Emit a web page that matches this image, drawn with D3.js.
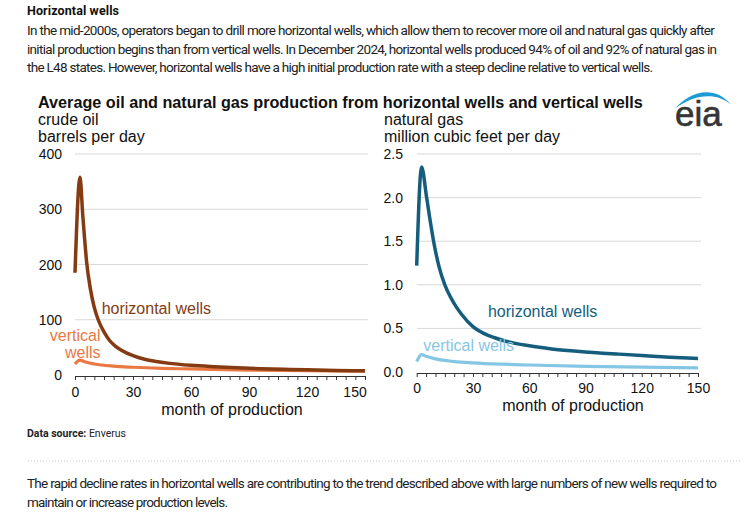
<!DOCTYPE html>
<html><head><meta charset="utf-8">
<script src="https://cdn.jsdelivr.net/npm/d3@7"></script>
<style>
html,body{margin:0;padding:0;background:#fff;}
svg{display:block;}
</style></head>
<body>
<svg id="chart" width="752" height="513"></svg>
<script>
// ---------- data ----------
const oilHorizontalMonths = [0, 2.6, 4, 5, 6, 8, 10, 12, 15, 18, 21, 24, 30, 36, 42, 48, 60, 72, 84, 96, 108, 120, 135, 150];
const oilHorizontal      = [185, 358, 290, 245, 205, 155, 122, 100, 78, 62, 52, 45, 35, 28.5, 24.5, 21.5, 17.5, 15, 13, 11.5, 10.3, 9.3, 8.3, 7.5];
const oilVerticalMonths  = [0, 2.6, 5, 10, 20, 30, 45, 60, 90, 120, 150];
const oilVertical        = [20, 27, 24, 20, 16, 14, 12, 11, 9, 7.8, 6.8];
const gasHorizontalMonths = [0, 2.6, 5.3, 7, 9, 12, 15, 18, 21, 24, 30, 36, 42, 48, 60, 72, 84, 96, 108, 120, 135, 150];
const gasHorizontal      = [1.22, 2.35, 2.0, 1.76, 1.5, 1.2, 1.0, 0.86, 0.75, 0.66, 0.52, 0.44, 0.39, 0.35, 0.30, 0.265, 0.24, 0.22, 0.205, 0.19, 0.17, 0.155];
const gasVerticalMonths  = [0, 2.6, 5, 10, 20, 30, 45, 60, 90, 120, 150];
const gasVertical        = [0.12, 0.20, 0.18, 0.15, 0.12, 0.105, 0.09, 0.08, 0.065, 0.055, 0.047];
const oilTicks = [0, 100, 200, 300, 400];
const gasTicks = [0, 0.5, 1.0, 1.5, 2.0, 2.5];
const monthTicks = [0, 30, 60, 90, 120, 150];

const heading = "Horizontal wells";
const introLines = [
  "In the mid-2000s, operators began to drill more horizontal wells, which allow them to recover more oil and natural gas quickly after",
  "initial production begins than from vertical wells. In December 2024, horizontal wells produced 94% of oil and 92% of natural gas in",
  "the L48 states. However, horizontal wells have a high initial production rate with a steep decline relative to vertical wells."
];
const outroLines = [
  "The rapid decline rates in horizontal wells are contributing to the trend described above with large numbers of new wells required to",
  "maintain or increase production levels."
];
const chartTitle = "Average oil and natural gas production from horizontal wells and vertical wells";

// ---------- drawing ----------
const svg = d3.select("#chart");
const FONT = "'Liberation Sans', Arial, sans-serif";
const BODY = "'Liberation Sans Narrow', Roboto, sans-serif";

function fitText(sel, target) {
  const n = sel.text().length;
  const len = sel.node().getComputedTextLength();
  sel.attr("letter-spacing", ((target - len) / (n - 1)).toFixed(3));
}

// page text
const hd = svg.append("text").attr("x", 27).attr("y", 15).attr("font-family", BODY)
  .attr("font-weight", 700).attr("font-size", 12.5).attr("fill", "#111").text(heading);
fitText(hd, 92);
const introW = [688, 690, 626];
introLines.forEach((t, i) => {
  const s = svg.append("text").attr("x", 27).attr("y", 35 + i * 18.6).attr("font-family", BODY)
    .attr("font-size", 13.5).attr("fill", "#222").text(t);
  fitText(s, introW[i]);
});
const outroW = [690, 201];
outroLines.forEach((t, i) => {
  const s = svg.append("text").attr("x", 27).attr("y", 488 + i * 18.6).attr("font-family", BODY)
    .attr("font-size", 13.5).attr("fill", "#222").text(t);
  fitText(s, outroW[i]);
});
const ds = svg.append("text").attr("x", 27).attr("y", 437).attr("font-family", BODY)
  .attr("font-size", 10.5).attr("fill", "#222");
ds.append("tspan").attr("font-weight", 700).text("Data source: ");
ds.append("tspan").text("Enverus");
svg.append("line").attr("x1", 28).attr("x2", 742).attr("y1", 461).attr("y2", 461)
  .attr("stroke", "#cfcfcf").attr("stroke-width", 1).attr("stroke-dasharray", "1,2");

// chart title
svg.append("text").attr("x", 38).attr("y", 108).attr("font-family", FONT)
  .attr("font-weight", 700).attr("font-size", 16.2).attr("fill", "#111").text(chartTitle);

// eia logo
svg.append("path").attr("d", "M675,108.5 C688,93 713,83 731,104.5 C715,91 693,95 675,108.5Z").attr("fill", "#1e9ad6");
svg.append("text").attr("x", 675).attr("y", 125.5).attr("font-family", FONT)
  .attr("font-size", 35).attr("fill", "#353535").attr("stroke", "#353535").attr("stroke-width", 0.6).text("eia");

function panel(cfg) {
  const x = d3.scaleLinear().domain([0, 150]).range(cfg.xr);
  const y = d3.scaleLinear().domain(cfg.ydom).range(cfg.yr);
  const g = svg.append("g");
  // units
  cfg.units.forEach((u, i) => {
    g.append("text").attr("x", cfg.unitX).attr("y", 125 + i * 16.5).attr("font-family", FONT)
      .attr("font-size", 16).attr("fill", "#111").text(u);
  });
  // grid
  g.selectAll(".grid").data(cfg.yticks.filter(d => d > 0)).join("line")
    .attr("x1", cfg.xr[0]).attr("x2", cfg.xr[1] + 3)
    .attr("y1", d => y(d)).attr("y2", d => y(d))
    .attr("stroke", "#d9d9d9").attr("stroke-width", 1);
  // y labels
  g.selectAll(".yl").data(cfg.yticks).join("text")
    .attr("x", cfg.ylabX).attr("y", d => y(d)).attr("dy", "0.36em")
    .attr("text-anchor", "end").attr("font-family", FONT).attr("font-size", 14).attr("fill", "#111")
    .text(cfg.yfmt);
  // x axis
  const ax = d3.axisBottom(x).tickValues(d3.range(0, 151, 5)).tickSize(4).tickSizeOuter(0)
    .tickPadding(cfg.tickPad).tickFormat(d => monthTicks.includes(d) ? d : "");
  const axg = g.append("g").attr("transform", `translate(0,${cfg.yr[0] + 1})`).call(ax);
  axg.select(".domain").attr("stroke", "#333");
  axg.selectAll(".tick line").attr("stroke", "#333");
  axg.selectAll(".tick text").attr("font-family", FONT).attr("font-size", 14).attr("fill", "#111");
  if (cfg.lastEnd) {
    axg.selectAll(".tick text").filter(d => d === 150).attr("text-anchor", "end").attr("dx", "1.2");
  }
  g.append("text").attr("x", cfg.titleX).attr("y", cfg.titleY).attr("text-anchor", "middle")
    .attr("font-family", FONT).attr("font-size", 16).attr("fill", "#111").text("month of production");
  // lines
  const line = d3.line().x(d => x(d[0])).y(d => y(d[1])).curve(d3.curveMonotoneX);
  cfg.series.forEach(s => {
    g.append("path").datum(d3.zip(s.months, s.values)).attr("d", line)
      .attr("fill", "none").attr("stroke", s.color).attr("stroke-width", s.width)
      .attr("stroke-linejoin", "round").attr("stroke-linecap", "butt");
  });
  // series labels
  cfg.labels.forEach(l => {
    l.lines.forEach((t, i) => {
      g.append("text").attr("x", x(l.m)).attr("y", y(l.v) + i * 16.5)
        .attr("text-anchor", l.anchor).attr("font-family", FONT).attr("font-size", 16)
        .attr("fill", l.color).text(t);
    });
  });
}

const C = { oilH: "#843b12", oilV: "#ea7843", gasH: "#155d7c", gasV: "#86c6e5" };

panel({
  xr: [75, 365], yr: [375, 154], ydom: [0, 400], yticks: oilTicks, yfmt: d => d,
  ylabX: 62, unitX: 38, units: ["crude oil", "barrels per day"], tickPad: 7, lastEnd: true,
  titleX: 232, titleY: 415,
  series: [
    { months: oilVerticalMonths, values: oilVertical, color: C.oilV, width: 3.2 },
    { months: oilHorizontalMonths, values: oilHorizontal, color: C.oilH, width: 3.5 }
  ],
  labels: [
    { m: 13.8, v: 111, lines: ["horizontal wells"], anchor: "start", color: C.oilH },
    { m: 13.2, v: 61.5, lines: ["vertical", "wells"], anchor: "end", color: C.oilV }
  ]
});
panel({
  xr: [416.7, 698], yr: [372, 154], ydom: [0, 2.5], yticks: gasTicks, yfmt: d3.format(".1f"),
  ylabX: 403, unitX: 384, units: ["natural gas", "million cubic feet per day"], tickPad: 6, lastEnd: false,
  titleX: 573, titleY: 411,
  series: [
    { months: gasVerticalMonths, values: gasVertical, color: C.gasV, width: 3.2 },
    { months: gasHorizontalMonths, values: gasHorizontal, color: C.gasH, width: 3.5 }
  ],
  labels: [
    { m: 38, v: 0.63, lines: ["horizontal wells"], anchor: "start", color: C.gasH },
    { m: 3.5, v: 0.24, lines: ["vertical wells"], anchor: "start", color: C.gasV }
  ]
});
</script>
</body></html>
